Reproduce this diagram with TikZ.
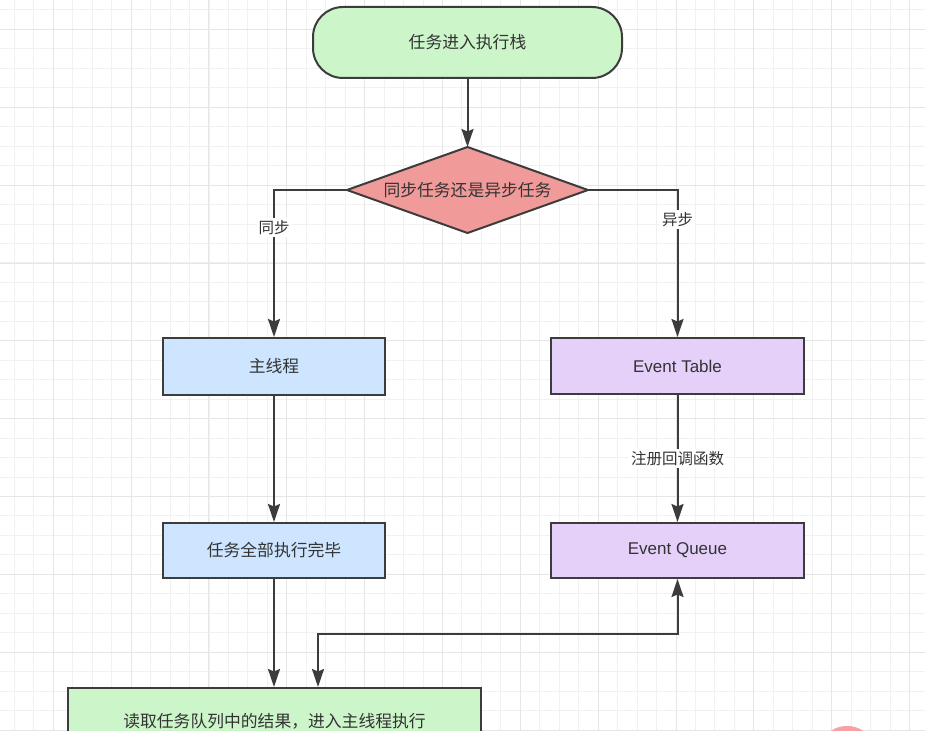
\documentclass[tikz,border=0pt]{standalone}
\usepackage{fontspec}
\setmainfont{Liberation Sans}
\newfontfamily\cjk{Noto Sans CJK SC}
\usetikzlibrary{arrows.meta}
\definecolor{ink}{RGB}{60,60,60}
\definecolor{txt}{RGB}{51,51,51}
\definecolor{fgreen}{RGB}{204,245,201}
\definecolor{fblue}{RGB}{205,229,255}
\definecolor{fpurple}{RGB}{229,208,250}
\definecolor{fred}{RGB}{240,154,154}
\definecolor{gminor}{RGB}{241,241,241}
\definecolor{gmajor}{RGB}{230,230,230}
\definecolor{pinkdot}{RGB}{246,162,162}
\tikzset{
  box/.style={draw=ink, line width=2pt, rectangle, inner sep=0pt, text=txt, font=\cjk\fontsize{16.8}{19}\selectfont},
  latinbox/.style={box, font=\fontsize{17}{19}\selectfont},
  diatext/.style={inner sep=0pt, text=txt, font=\cjk\fontsize{16.8}{19}\selectfont},
  arr/.style={draw=ink, line width=2pt, -{Stealth[length=18pt,width=12pt,inset=2.5pt]}},
  biarr/.style={draw=ink, line width=2pt, {Stealth[length=18pt,width=12pt,inset=2.5pt]}-{Stealth[length=18pt,width=12pt,inset=2.5pt]}},
  lbl/.style={fill=white, text=txt, inner sep=2pt, font=\cjk\fontsize{15.5}{17}\selectfont}
}
\begin{document}
\begin{tikzpicture}[x=1pt,y=-1pt]
\clip (0,0) rectangle (925,730);
\fill[white] (0,0) rectangle (925,730);
% grid
\foreach \i in {0,...,47} {
  \draw[gminor, line width=1pt] (14.4+19.46*\i,0) -- (14.4+19.46*\i,730);
  \draw[gminor, line width=1pt] (0,10+19.46*\i) -- (925,10+19.46*\i);
}
\foreach \i in {0,...,11} {
  \draw[gmajor, line width=1pt] (53.3+77.84*\i,0) -- (53.3+77.84*\i,730);
  \draw[gmajor, line width=1pt] (0,29.5+77.84*\i) -- (925,29.5+77.84*\i);
}
% nodes
\node[box, fill=fgreen, rounded corners=30pt, minimum width=309pt, minimum height=71pt] (top) at (467.5,42.5) {任务进入执行栈};
\coordinate (dN) at (467.5,147);
\coordinate (dE) at (588,190);
\coordinate (dS) at (467.5,233);
\coordinate (dW) at (347,190);
\draw[ink, line width=2pt, fill=fred, line join=miter] (dN) -- (dE) -- (dS) -- (dW) -- cycle;
\node[diatext] (d) at (467.5,190) {同步任务还是异步任务};
\node[box, fill=fblue, minimum width=222pt, minimum height=57pt] (main) at (274,366.5) {主线程};
\node[latinbox, fill=fpurple, minimum width=253pt, minimum height=56pt] (et) at (677.5,366) {Event Table};
\node[box, fill=fblue, minimum width=222pt, minimum height=55pt] (done) at (274,550.5) {任务全部执行完毕};
\node[latinbox, fill=fpurple, minimum width=253pt, minimum height=55pt] (eq) at (677.5,550.5) {Event Queue};
\node[box, fill=fgreen, minimum width=413pt, minimum height=66pt] (bot) at (274.5,721) {读取任务队列中的结果，进入主线程执行};
\fill[pinkdot] (847,756) circle (30);
% connectors
\draw[arr] (top.south) -- (dN);
\draw[arr] (dW) -| node[lbl, pos=0.628] {同步} (main.north);
\draw[arr] (dE) -| node[lbl, pos=0.6] {异步} (et.north);
\draw[arr] (main.south) -- (done.north);
\draw[arr] (et.south) -- node[lbl] {注册回调函数} (eq.north);
\draw[arr] (done.south) -- (done.south |- bot.north);
\coordinate (k) at (318,634);
\draw[biarr] (eq.south) |- (k) -- (k |- bot.north);
\end{tikzpicture}
\end{document}
